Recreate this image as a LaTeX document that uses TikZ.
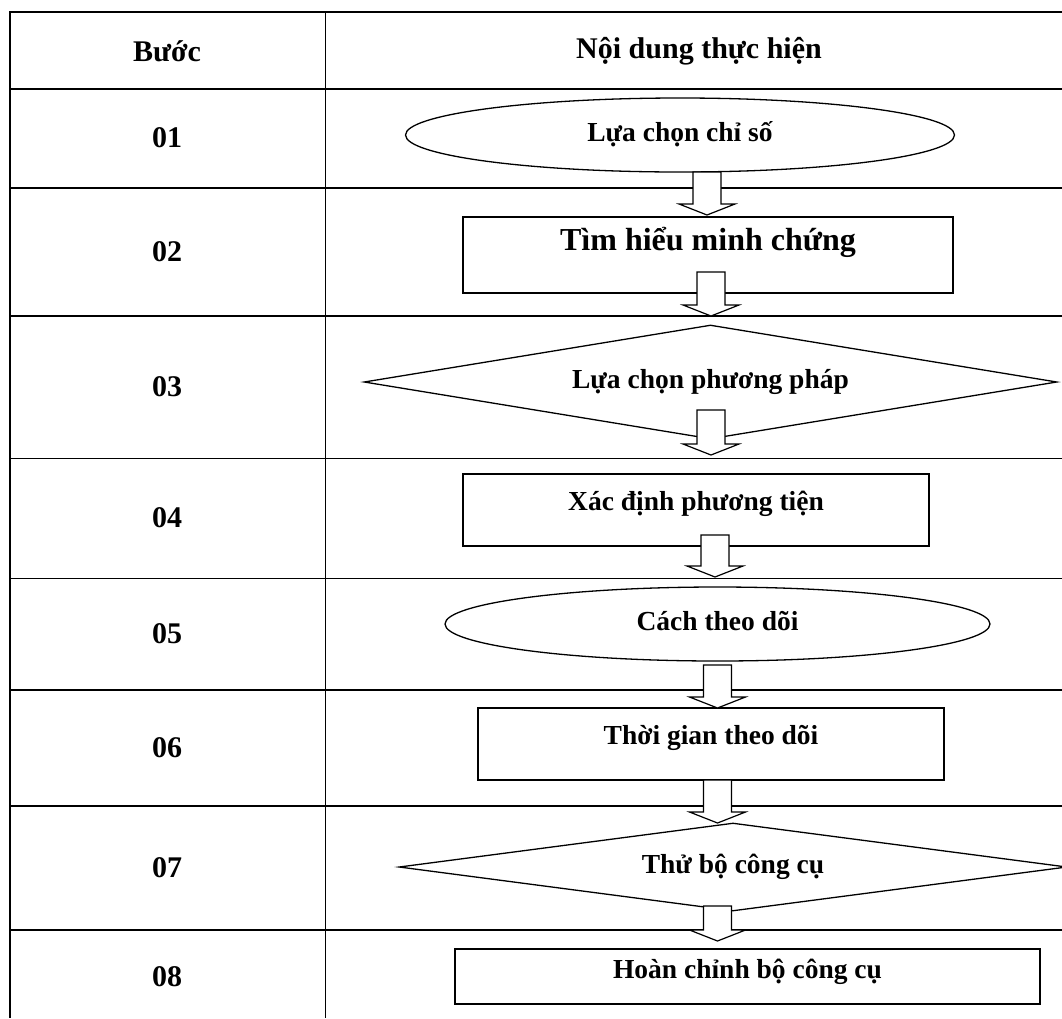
\documentclass[tikz,border=0pt]{standalone}
\usepackage{fontspec}
\setmainfont{Liberation Serif}
\usetikzlibrary{shapes.geometric,calc}

\begin{document}
\begin{tikzpicture}[x=1pt,y=-1pt]
\tikzset{cell/.style={font=\bfseries\fontsize{30}{36}\selectfont},
  box/.style={draw,line width=1.3pt,inner sep=0pt,font=\bfseries\fontsize{27.5}{33}\selectfont,text height=18pt,text depth=5pt},
  oval/.style={box,ellipse},
  rhomb/.style={box,diamond,aspect=6},
  blockarrow/.style={draw,fill=white,line width=1.2pt,line join=miter}}

\useasboundingbox (0,0) rectangle (1062,1018);

% table
\foreach \ry in {12,89,188,316,690,806,930} \draw[line width=1.8pt] (10,\ry) -- (1062,\ry);
\foreach \ry in {458,578} \draw[line width=1pt] (10,\ry) -- (1062,\ry);
\draw[line width=1.8pt] (10,11) -- (10,1018);
\draw[line width=1pt] (325,12) -- (325,1018);

\node[cell] (h1) at (167,51) {Bước};
\node[cell] (h2) at (699,51) {Nội dung thực hiện};
\foreach \n/\ry in {01/138,02/252,03/387,04/518,05/634,06/748,07/868,08/977}
  \node[cell] (b\n) at (167,\ry) {\n};

% steps
\node[oval,minimum width=549pt,minimum height=74pt] (s01) at (680,135) {Lựa chọn chỉ số};
\node[box,minimum width=490pt,minimum height=76pt,font=\bfseries\fontsize{32}{38}\selectfont,text height=22pt,text depth=32pt] (s02) at (708,255) {Tìm hiểu minh chứng};
\node[rhomb,minimum width=693pt,minimum height=114pt] (s03) at (710.5,382) {Lựa chọn phương pháp};
\node[box,minimum width=466pt,minimum height=72pt,text depth=18pt] (s04) at (696,510) {Xác định phương tiện};
\node[oval,minimum width=545pt,minimum height=74pt] (s05) at (717.5,624) {Cách theo dõi};
\node[box,minimum width=466pt,minimum height=72pt,text depth=18pt] (s06) at (711,744) {Thời gian theo dõi};
\node[rhomb,minimum width=668pt,minimum height=88pt] (s07) at (733,867) {Thử bộ công cụ};
\node[box,minimum width=585pt,minimum height=55pt,text depth=15pt] (s08) at (747.5,976.5) {Hoàn chỉnh bộ công cụ};

% arrows
\foreach \i/\cx/\ya/\yb in {1/707/172/215,2/711/272/316,3/711/410/455,4/715/535/577,5/717.5/665/708,6/717.5/780/823,7/717.5/906/941}{
  \coordinate (p\i) at (\cx,\ya);
  \coordinate (q\i) at (\cx,\yb);
  \draw[blockarrow] let \p1=(p\i), \p2=(q\i) in (\x1-14pt,\y1) -- (\x1+14pt,\y1) -- (\x1+14pt,\y2+11pt) -- (\x1+28pt,\y2+11pt) -- (\p2) -- (\x1-28pt,\y2+11pt) -- (\x1-14pt,\y2+11pt) -- cycle;
}
\end{tikzpicture}
\end{document}
